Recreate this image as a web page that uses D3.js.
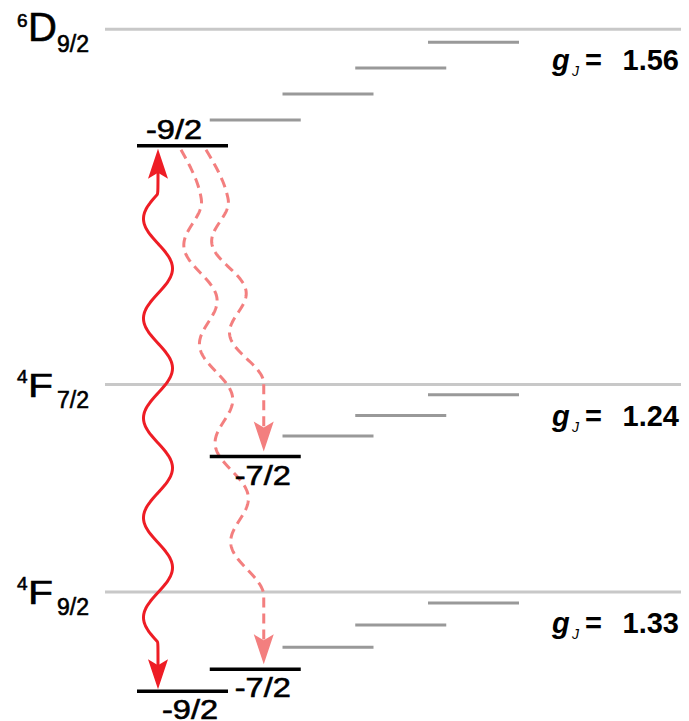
<!DOCTYPE html>
<html lang="en">
<head>
<meta charset="utf-8">
<title>Zeeman levels</title>
<script src="https://d3js.org/d3.v7.min.js"></script>
<style>
  html, body { margin: 0; padding: 0; background: #fff; }
  svg { display: block; font-family: "Liberation Sans", Arial, Helvetica, sans-serif; }
  .heavy { stroke: #000; stroke-width: 0.6px; }
</style>
</head>
<body>
<svg id="chart" width="689" height="721"></svg>
<script>
// fine-structure levels
var levelMult   = ["6", "4", "4"];
var levelTerm   = ["D", "F", "F"];
var levelJ      = ["9/2", "7/2", "9/2"];
var levelEnergy = [33.9, 12.5, 0];      // arbitrary units, 4F9/2 = 0
var levelGJ     = [1.56, 1.24, 1.33];

// Zeeman sublevels drawn for each level (m_J)
var mJ92 = [-9/2, -7/2, -5/2, -3/2, -1/2];
var mJ72 = [-7/2, -5/2, -3/2, -1/2];
var levelSublevels = [mJ92, mJ72, mJ92];

// sublevels taking part in the transitions (black + labelled)
var activeLevel = [0, 1, 2, 2];
var activeM     = [-9/2, -7/2, -7/2, -9/2];
var activeLabel = ["-9/2", "-7/2", "-7/2", "-9/2"];

// pump (solid, both ways) and decays (dashed)
var pumpLevels  = [2, 0];
var pumpM       = [-9/2, -9/2];
var decayFrom   = [0, 0];
var decayFromM  = [-9/2, -9/2];
var decayTo     = [2, 1];
var decayToM    = [-7/2, -7/2];
var decayWaves  = [4, 2];               // full wiggles after the first quarter

var svg = d3.select("#chart");

var y = d3.scaleLinear().domain([0, 34]).range([592, 592 - 34 * 16.6]);
var x = d3.scaleLinear().domain([-9/2, -1/2]).range([137, 428]);
var barW = 91;

function levelY(i, m) { return y(levelEnergy[i] + levelGJ[i] * m); }

var RED = "#ee1d25", PINK = "#f37f7f";

// reference lines (m = 0)
svg.selectAll("line.ref")
  .data(levelEnergy)
  .enter().append("line")
  .attr("class", "ref")
  .attr("x1", 105).attr("x2", 681)
  .attr("y1", function(d) { return y(d); })
  .attr("y2", function(d) { return y(d); })
  .attr("stroke", "#c8c8c8")
  .attr("stroke-width", 3);

// sublevel bars
var subs = [];
levelSublevels.forEach(function(ms, i) {
  ms.forEach(function(m) {
    var active = false;
    activeLevel.forEach(function(l, k) { if (l === i && activeM[k] === m) active = true; });
    subs.push({level: i, m: m, active: active});
  });
});

svg.selectAll("line.sub")
  .data(subs.filter(function(d) { return !d.active; }))
  .enter().append("line")
  .attr("class", "sub")
  .attr("x1", function(d) { return x(d.m); })
  .attr("x2", function(d) { return x(d.m) + barW; })
  .attr("y1", function(d) { return levelY(d.level, d.m); })
  .attr("y2", function(d) { return levelY(d.level, d.m); })
  .attr("stroke", "#999999")
  .attr("stroke-width", 3);

// arrowhead shape, pointing up, tip at origin
var headPath = "M0,0 L-10,30 L0,24 L10,30 Z";
var line = d3.line().curve(d3.curveBasis);

// pump: vertical sine between the two -9/2 sublevels
(function() {
  var cx = x(pumpM[0]) + 21;
  var topTip = levelY(pumpLevels[1], pumpM[1]) + 3;
  var botTip = levelY(pumpLevels[0], pumpM[0]) - 2;
  var y0 = topTip + 45, y1 = botTip - 47;
  var P = (y1 - y0) / 4.5, amp = 14.5;
  var pts = [[cx, topTip + 22]];
  for (var yy = y0; yy <= y1; yy += 1) {
    pts.push([cx - amp * Math.sin(2 * Math.PI * (yy - y0) / P), yy]);
  }
  pts.push([cx - amp * Math.sin(2 * Math.PI * (y1 - y0) / P), y1]);
  pts.push([cx, botTip - 22]);
  svg.append("path")
    .attr("d", line(pts))
    .attr("fill", "none")
    .attr("stroke", RED)
    .attr("stroke-width", 3);
  svg.append("path").attr("d", headPath).attr("fill", RED)
    .attr("transform", "translate(" + cx + "," + topTip + ")");
  svg.append("path").attr("d", headPath).attr("fill", RED)
    .attr("transform", "translate(" + cx + "," + botTip + ") rotate(180)");
})();

// decays: drifting dashed sines
var decayStartOff = [44, 69];
decayFrom.forEach(function(f, k) {
  var x0 = x(decayFromM[k]) + decayStartOff[k];
  var y0 = levelY(f, decayFromM[k]) + 4;
  var tipX = x(decayToM[k]) + 54;
  var tipY = levelY(decayTo[k], decayToM[k]) - 5;
  var amp = 12.5, d1 = 49, tail = 70;
  var yEnd = tipY - tail;
  var P = (yEnd - y0 - d1) / decayWaves[k];
  var slope = (tipX - amp - x0) / (yEnd - y0);
  var pts = [];
  for (var yy = y0; yy <= yEnd + 0.01; yy += 1) {
    var ph = yy < y0 + d1 ? (yy - y0) / d1 * Math.PI / 2
                          : Math.PI / 2 + 2 * Math.PI * (yy - y0 - d1) / P;
    pts.push([x0 + slope * (yy - y0) + amp * Math.sin(ph), yy]);
  }
  pts.push([tipX, yEnd]);
  pts.push([tipX, tipY - 22]);
  svg.append("path")
    .attr("d", d3.line()(pts))
    .attr("fill", "none")
    .attr("stroke", PINK)
    .attr("stroke-width", 3)
    .attr("stroke-dasharray", "10,6");
  svg.append("path").attr("d", headPath).attr("fill", PINK)
    .attr("transform", "translate(" + tipX + "," + tipY + ") rotate(180)");
});

// black (active) bars
svg.selectAll("line.act")
  .data(subs.filter(function(d) { return d.active; }))
  .enter().append("line")
  .attr("class", "act")
  .attr("x1", function(d) { return x(d.m); })
  .attr("x2", function(d) { return x(d.m) + barW; })
  .attr("y1", function(d) { return levelY(d.level, d.m); })
  .attr("y2", function(d) { return levelY(d.level, d.m); })
  .attr("stroke", "#000")
  .attr("stroke-width", 3.5);

// m labels: above for the upper level, below otherwise
svg.selectAll("text.m")
  .data(activeLabel)
  .enter().append("text")
  .attr("class", "m heavy")
  .attr("x", function(d, i) { return x(activeM[i]) + (activeLevel[i] === 0 ? 9 : 25); })
  .attr("y", function(d, i) {
    var by = levelY(activeLevel[i], activeM[i]);
    return activeLevel[i] === 0 ? by - 7 : by + 28;
  })
  .attr("font-size", 27)
  .attr("textLength", 56)
  .attr("lengthAdjust", "spacingAndGlyphs")
  .attr("fill", "#000")
  .text(function(d) { return d; });

// level names, left
levelTerm.forEach(function(t, i) {
  var base = y(levelEnergy[i]) + 12;
  var g = svg.append("g").attr("class", "heavy");
  g.append("text").attr("x", 17).attr("y", base - 14)
    .attr("font-size", 19).text(levelMult[i]);
  var main = g.append("text").attr("x", 28).attr("y", base)
    .attr("font-size", t === "D" ? 40 : 34).text(t);
  if (t === "F") main.attr("textLength", 25).attr("lengthAdjust", "spacingAndGlyphs");
  g.append("text").attr("x", 57).attr("y", base + 11)
    .attr("font-size", 23).text(levelJ[i]);
});

// g_J values, right
levelGJ.forEach(function(gj, i) {
  var base = y(levelEnergy[i]) + 41;
  var g = svg.append("g").attr("font-weight", "bold");
  g.append("text").attr("x", 552).attr("y", base)
    .attr("font-size", 29).attr("font-style", "italic").text("g");
  g.append("text").attr("x", 572).attr("y", base + 6)
    .attr("font-size", 14).attr("font-style", "italic").attr("font-weight", "normal").text("J");
  g.append("text").attr("x", 585).attr("y", base)
    .attr("font-size", 29).text("=");
  g.append("text").attr("x", 679).attr("y", base)
    .attr("text-anchor", "end")
    .attr("font-size", 29).text(d3.format(".2f")(gj));
});
</script>
</body>
</html>
